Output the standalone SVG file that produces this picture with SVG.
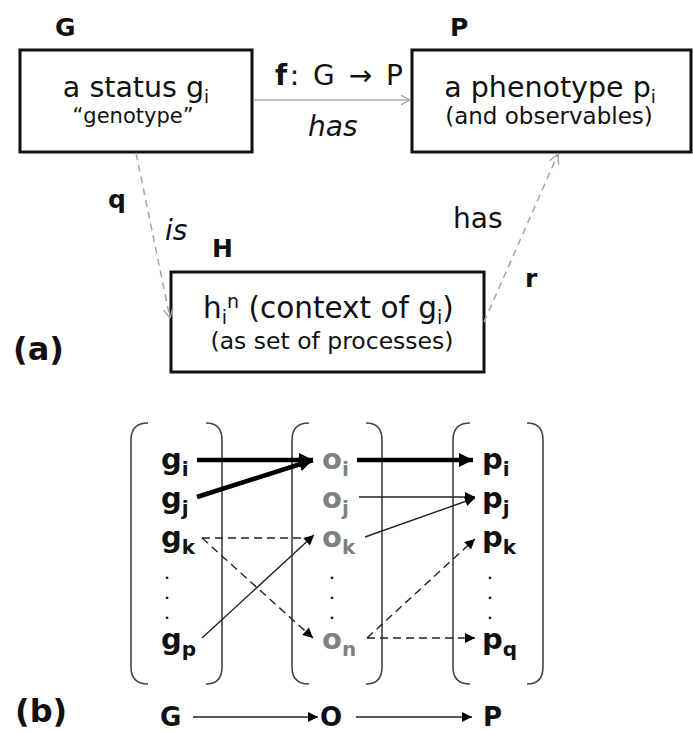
<svg xmlns="http://www.w3.org/2000/svg" width="693" height="732" viewBox="0 0 693 732">
<style>
text{font-family:"DejaVu Sans","Verdana",sans-serif;fill:#111}
.b{font-weight:bold}
.lbl{font-size:25px;font-weight:bold}
.m{font-size:28.5px}
.s{font-size:23px}
.it{font-style:italic}
.box{fill:#fff;stroke:#111;stroke-width:3}
.gl{font-size:29px;font-weight:bold}
.og{fill:#808080}
.br{fill:none;stroke:#444;stroke-width:1.6}
.gray{fill:none;stroke:#a6a6a6;stroke-width:1.5}
.dg{stroke-dasharray:7,5}
.thick{fill:none;stroke:#000;stroke-width:4.5}
.thin{fill:none;stroke:#222;stroke-width:1.4}
.dash{fill:none;stroke:#222;stroke-width:1.4;stroke-dasharray:8,5}
.dot{font-size:13px;font-weight:bold}
</style>
<defs>
<marker id="hs" viewBox="0 0 10 10" refX="10" refY="5" markerWidth="11" markerHeight="10" markerUnits="userSpaceOnUse" orient="auto"><path d="M0,0 L10,5 L0,10 z" fill="#000"/></marker>
<marker id="hl" viewBox="0 0 10 10" refX="10" refY="5" markerWidth="16" markerHeight="14" markerUnits="userSpaceOnUse" orient="auto"><path d="M0,0 L10,5 L0,10 z" fill="#000"/></marker>
<marker id="ho" viewBox="0 0 10 10" refX="9.5" refY="5" markerWidth="10" markerHeight="11" markerUnits="userSpaceOnUse" orient="auto"><path d="M0,0 L9.5,5 L0,10" fill="none" stroke="#a6a6a6" stroke-width="1.4"/></marker>
</defs>

<!-- (a) part -->
<g id="nodeG">
<text x="55" y="36" class="lbl">G</text>
<rect x="20" y="50" width="232" height="102" class="box"/>
<text x="136" y="97" text-anchor="middle" class="m">a status g<tspan dy="6" font-size="18">i</tspan></text>
<text x="133" y="123" text-anchor="middle" font-size="21">“genotype”</text>
</g>
<g id="nodeP">
<text x="450" y="36" class="lbl">P</text>
<rect x="412" y="50" width="279" height="102" class="box"/>
<text x="550" y="97" text-anchor="middle" class="m">a phenotype p<tspan dy="6" font-size="18">i</tspan></text>
<text x="549" y="124" text-anchor="middle" class="s">(and observables)</text>
</g>
<g id="nodeH">
<text x="212" y="257" class="lbl">H</text>
<rect x="171" y="272" width="313" height="100" class="box"/>
<text x="203" y="318" font-size="29.5">h<tspan dy="6" font-size="19">i</tspan><tspan dy="-16" font-size="19">n</tspan><tspan dy="10"> (context of g</tspan><tspan dy="6" font-size="19">i</tspan><tspan dy="-6">)</tspan></text>
<text x="332" y="349" text-anchor="middle" font-size="23.5">(as set of processes)</text>
</g>
<g id="labelA"><text x="13" y="360" font-size="32" class="b">(a)</text></g>
<g id="labelB"><text x="15" y="722" font-size="32" class="b">(b)</text></g>

<g id="connectors-a">
<line x1="253" y1="100" x2="410" y2="100" class="gray" marker-end="url(#ho)"/>
<text x="275" y="85" font-size="28" textLength="128" lengthAdjust="spacing"><tspan class="b">f</tspan>: G → P</text>
<text x="308" y="136" font-size="28" class="it">has</text>
<line x1="136" y1="153" x2="170" y2="318" class="gray dg" marker-end="url(#ho)"/>
<text x="108" y="208" class="lbl" font-size="27">q</text>
<text x="165" y="240" font-size="28" class="it">is</text>
<line x1="484" y1="322" x2="558" y2="154" class="gray dg" marker-end="url(#ho)"/>
<text x="453" y="228" font-size="28">has</text>
<text x="525" y="287" class="lbl" font-size="27">r</text>
</g>

<!-- (b) part: brackets -->
<g id="brackets">
<path d="M148,423 Q131,423 131,440 L131,667 Q131,684 148,684" class="br"/>
<path d="M206,423 Q222,423 222,440 L222,667 Q222,684 206,684" class="br"/>
<path d="M309,423 Q292,423 292,440 L292,667 Q292,684 309,684" class="br"/>
<path d="M366,423 Q382,423 382,440 L382,667 Q382,684 366,684" class="br"/>
<path d="M470,423 Q453,423 453,440 L453,667 Q453,684 470,684" class="br"/>
<path d="M527,423 Q543,423 543,440 L543,667 Q543,684 527,684" class="br"/>
</g>

<g id="g_i"><text x="161" y="469" class="gl">g<tspan dy="7" font-size="20">i</tspan></text></g>
<g id="g_j"><text x="161" y="508" class="gl">g<tspan dy="7" font-size="20">j</tspan></text></g>
<g id="g_k"><text x="161" y="547" class="gl">g<tspan dy="7" font-size="20">k</tspan></text></g>
<g id="g_dots"><text x="167" y="579" class="dot" text-anchor="middle">.</text><text x="167" y="599" class="dot" text-anchor="middle">.</text><text x="167" y="619" class="dot" text-anchor="middle">.</text></g>
<g id="g_p"><text x="161" y="649" class="gl">g<tspan dy="7" font-size="20">p</tspan></text></g>

<g id="o_i"><text x="322" y="469" class="gl og">o<tspan dy="7" font-size="20" class="og">i</tspan></text></g>
<g id="o_j"><text x="322" y="508" class="gl og">o<tspan dy="7" font-size="20" class="og">j</tspan></text></g>
<g id="o_k"><text x="322" y="547" class="gl og">o<tspan dy="7" font-size="20" class="og">k</tspan></text></g>
<g id="o_dots"><text x="332" y="579" class="dot" text-anchor="middle">.</text><text x="332" y="599" class="dot" text-anchor="middle">.</text><text x="332" y="619" class="dot" text-anchor="middle">.</text></g>
<g id="o_n"><text x="322" y="649" class="gl og">o<tspan dy="7" font-size="20" class="og">n</tspan></text></g>

<g id="p_i"><text x="482" y="469" class="gl">p<tspan dy="7" font-size="20">i</tspan></text></g>
<g id="p_j"><text x="482" y="508" class="gl">p<tspan dy="7" font-size="20">j</tspan></text></g>
<g id="p_k"><text x="482" y="547" class="gl">p<tspan dy="7" font-size="20">k</tspan></text></g>
<g id="p_dots"><text x="490" y="579" class="dot" text-anchor="middle">.</text><text x="490" y="599" class="dot" text-anchor="middle">.</text><text x="490" y="619" class="dot" text-anchor="middle">.</text></g>
<g id="p_q"><text x="482" y="649" class="gl">p<tspan dy="7" font-size="20">q</tspan></text></g>

<g id="bG"><text x="160" y="726" font-size="26" class="b">G</text></g>
<g id="bO"><text x="320" y="726" font-size="26" class="b">O</text></g>
<g id="bP"><text x="483" y="726" font-size="26" class="b">P</text></g>

<g id="connectors-b">
<line x1="197" y1="460" x2="313" y2="460" class="thick" marker-end="url(#hl)"/>
<line x1="197" y1="497" x2="313" y2="460" class="thick" marker-end="url(#hl)"/>
<line x1="357" y1="460" x2="473" y2="460" class="thick" marker-end="url(#hl)"/>
<line x1="359" y1="497" x2="475" y2="497" class="thin" marker-end="url(#hs)"/>
<line x1="365" y1="537" x2="475" y2="498" class="thin" marker-end="url(#hs)"/>
<line x1="202" y1="538" x2="306" y2="538" class="dash"/>
<line x1="202" y1="638" x2="314" y2="535" class="thin" marker-end="url(#hs)"/>
<line x1="202" y1="538" x2="313" y2="638" class="dash" marker-end="url(#hs)"/>
<line x1="367" y1="638" x2="475" y2="539" class="dash" marker-end="url(#hs)"/>
<line x1="367" y1="638" x2="475" y2="638" class="dash" marker-end="url(#hs)"/>
<line x1="193" y1="717" x2="318" y2="717" class="thin" marker-end="url(#hs)"/>
<line x1="356" y1="717" x2="472" y2="717" class="thin" marker-end="url(#hs)"/>
</g>
</svg>
